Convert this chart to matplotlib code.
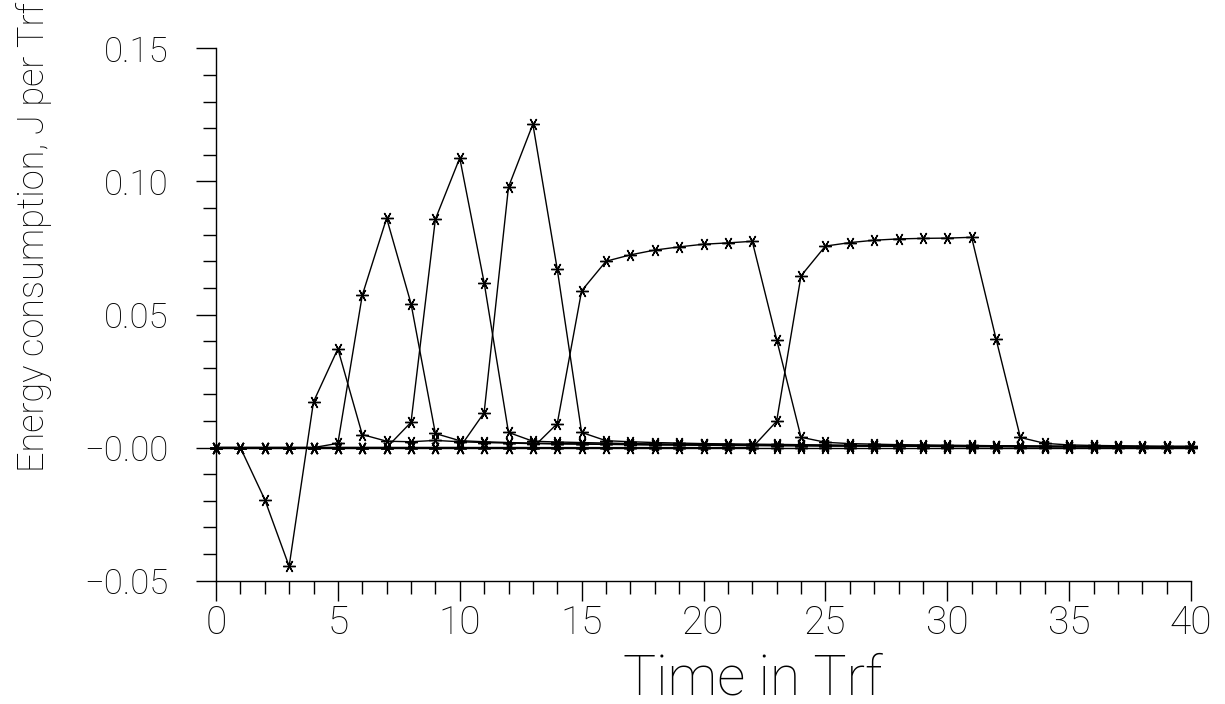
# energy consumption per Trf for each pulse
import matplotlib
matplotlib.use('Agg')
import matplotlib.pyplot as plt
from matplotlib.ticker import MultipleLocator, FixedLocator, FixedFormatter

# data
time = list(range(41))

pulse_a = [0.0, 0.0, -0.0195, -0.0446, 0.0172, 0.0371, 0.0049, 0.0024, 0.0022, 0.0027,
           0.0022, 0.0019, 0.0017, 0.0015, 0.0014, 0.0013, 0.0012, 0.0011, 0.0010, 0.0010,
           0.0009, 0.0008, 0.0008, 0.0007, 0.0007, 0.0006, 0.0006, 0.0005, 0.0005, 0.0005,
           0.0004, 0.0004, 0.0004, 0.0003, 0.0003, 0.0003, 0.0003, 0.0002, 0.0002, 0.0002,
           0.0002]
pulse_b = [0.0, 0.0, 0.0, 0.0, 0.0, 0.0016, 0.0572, 0.0862, 0.0541, 0.0053,
           0.0026, 0.0022, 0.0019, 0.0017, 0.0015, 0.0014, 0.0013, 0.0012, 0.0011, 0.0010,
           0.0009, 0.0009, 0.0008, 0.0008, 0.0007, 0.0007, 0.0006, 0.0006, 0.0005, 0.0005,
           0.0005, 0.0004, 0.0004, 0.0004, 0.0003, 0.0003, 0.0003, 0.0003, 0.0003, 0.0002,
           0.0002]
pulse_c = [0.0, 0.0, 0.0, 0.0, 0.0, 0.0, 0.0, 0.0, 0.0095, 0.0858,
           0.1088, 0.0620, 0.0057, 0.0024, 0.0021, 0.0019, 0.0017, 0.0015, 0.0014, 0.0013,
           0.0012, 0.0011, 0.0010, 0.0009, 0.0009, 0.0008, 0.0007, 0.0007, 0.0006, 0.0006,
           0.0005, 0.0005, 0.0005, 0.0004, 0.0004, 0.0004, 0.0003, 0.0003, 0.0003, 0.0002,
           0.0002]
pulse_d = [0.0, 0.0, 0.0, 0.0, 0.0, 0.0, 0.0, 0.0, 0.0, 0.0,
           0.0, 0.0131, 0.0979, 0.1215, 0.0670, 0.0057, 0.0026, 0.0022, 0.0019, 0.0017,
           0.0015, 0.0014, 0.0013, 0.0012, 0.0011, 0.0010, 0.0009, 0.0008, 0.0008, 0.0007,
           0.0007, 0.0006, 0.0006, 0.0005, 0.0005, 0.0004, 0.0004, 0.0004, 0.0003, 0.0003,
           0.0003]
pulse_e = [0.0, 0.0, 0.0, 0.0, 0.0, 0.0, 0.0, 0.0, 0.0, 0.0,
           0.0, 0.0, 0.0, 0.0, 0.0090, 0.0589, 0.0700, 0.0724, 0.0742, 0.0754,
           0.0764, 0.0769, 0.0775, 0.0406, 0.0039, 0.0020, 0.0015, 0.0013, 0.0011, 0.0010,
           0.0009, 0.0008, 0.0007, 0.0007, 0.0006, 0.0005, 0.0005, 0.0005, 0.0004, 0.0004,
           0.0004]
pulse_f = [0.0, 0.0, 0.0, 0.0, 0.0, 0.0, 0.0, 0.0, 0.0, 0.0,
           0.0, 0.0, 0.0, 0.0, 0.0, 0.0, 0.0, 0.0, 0.0, 0.0,
           0.0, 0.0, 0.0, 0.0099, 0.0645, 0.0757, 0.0770, 0.0779, 0.0784, 0.0786,
           0.0787, 0.0790, 0.0409, 0.0038, 0.0016, 0.0010, 0.0008, 0.0007, 0.0006, 0.0005,
           0.0005]
pulse_g = [0.0, 0.0, 0.0, 0.0, 0.0, 0.0, 0.0, 0.0, 0.0, 0.0,
           0.0, 0.0, 0.0, 0.0, 0.0, 0.0, 0.0, 0.0, 0.0, 0.0,
           0.0, 0.0, 0.0, 0.0, 0.0, 0.0, 0.0, 0.0, 0.0, 0.0,
           0.0, 0.0, 0.0, 0.0, 0.0, 0.0, 0.0, 0.0, 0.0, 0.0,
           0.0]

xtick_values = [0, 5, 10, 15, 20, 25, 30, 35, 40]
ytick_values = [-0.05, 0.0, 0.05, 0.10, 0.15]
ytick_labels = ['\u22120.05', '\u22120.00', '0.05', '0.10', '0.15']

font = ['Roboto', 'DejaVu Sans']
plt.rcParams['font.family'] = font
plt.rcParams['font.weight'] = 'light'
plt.rcParams['axes.labelweight'] = 'light'

fig = plt.figure(figsize=(12.25, 7.04), dpi=100)
ax = fig.add_axes([216/1225, 1-580.7/704, 975/1225, 532.4/704])

# asterisk marker with a horizontal bar
star = (6, 2, 90)
for series in [pulse_g, pulse_f, pulse_e, pulse_d, pulse_c, pulse_b, pulse_a]:
    ax.plot(time, series, '-', color='black', lw=1.0, marker=star,
            ms=9, mew=1.0, mec='black', clip_on=False)

ax.set_xlim(0, 40)
ax.set_ylim(-0.05, 0.15)

# spines
for side in ['top', 'right']:
    ax.spines[side].set_visible(False)
for side in ['left', 'bottom']:
    ax.spines[side].set_linewidth(1.0)

# ticks
ax.xaxis.set_major_locator(FixedLocator(xtick_values))
ax.xaxis.set_minor_locator(MultipleLocator(1))
ax.yaxis.set_major_locator(FixedLocator(ytick_values))
ax.yaxis.set_major_formatter(FixedFormatter(ytick_labels))
ax.yaxis.set_minor_locator(MultipleLocator(0.01))
ax.tick_params(axis='both', which='major', direction='out', length=14.4, width=1.0)
ax.tick_params(axis='both', which='minor', direction='out', length=9.4, width=1.0)
ax.tick_params(axis='x', which='major', labelsize=28, pad=3)
ax.tick_params(axis='y', which='major', labelsize=25, pad=20)

# labels
ax.set_xlabel('Time in Trf', fontsize=40, fontweight='light')
ax.xaxis.set_label_coords(0.55, -0.135)
ax.set_ylabel('Energy consumption, J per Trf', fontsize=26, fontweight='light')
ax.yaxis.set_label_coords(-0.168, 0.645)

plt.savefig('out.png', dpi=100)
